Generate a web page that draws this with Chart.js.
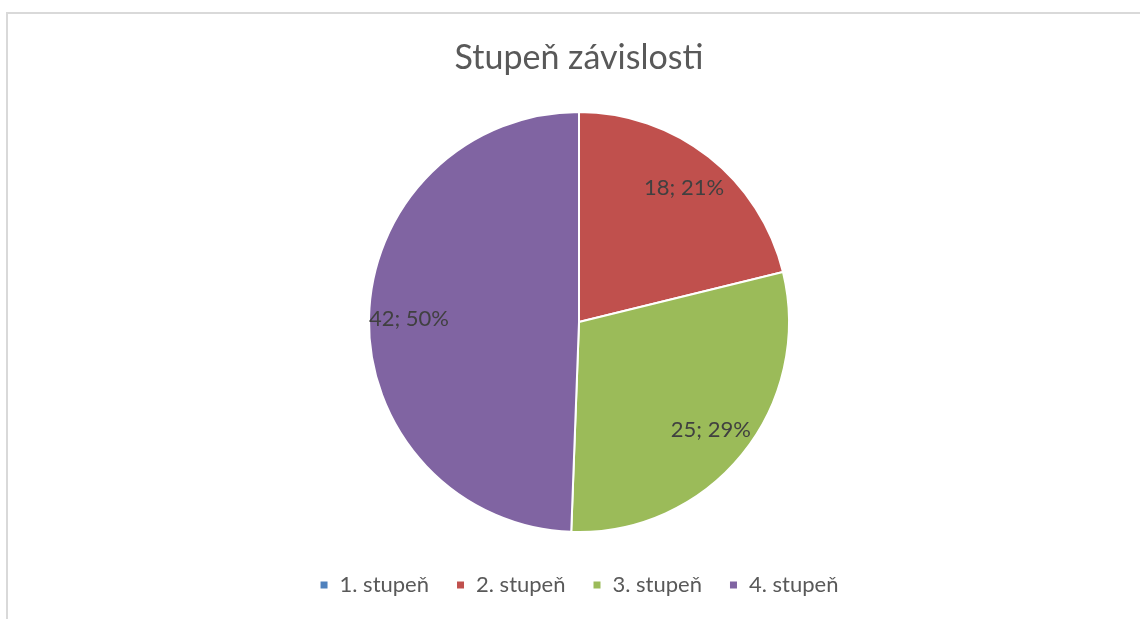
<!DOCTYPE html>
<html>
<head>
<meta charset="utf-8">
<script src="https://cdn.jsdelivr.net/npm/chart.js@4"></script>
<style>
    html, body { margin: 0; padding: 0; background: #fff; }
    body { width: 1140px; height: 619px; overflow: hidden; position: relative; }
    .frame {
        position: absolute; left: 6px; top: 12px; width: 1200px; height: 700px;
        border: 2px solid #d9d9d9; box-sizing: border-box;
    }
    #chart { position: absolute; left: 9px; top: 0; }
</style>
</head>
<body>
<div class="frame"></div>
<canvas id="chart" width="1140" height="619"></canvas>
<script>
const categories = ['1. stupeň', '2. stupeň', '3. stupeň', '4. stupeň'];
const counts = [0, 18, 25, 42];
const percentLabels = ['0%', '21%', '29%', '50%'];
const sliceColors = ['#4f81bd', '#c0504d', '#9bbb59', '#8064a2'];

const FONT = 'Lato, "Open Sans", sans-serif';

// data labels "value; percent" drawn inside each slice
const sliceLabels = {
    id: 'sliceLabels',
    afterDatasetsDraw(chart) {
        const ctx = chart.ctx;
        const meta = chart.getDatasetMeta(0);
        ctx.save();
        ctx.font = '22px ' + FONT;
        ctx.fillStyle = '#404040';
        ctx.textAlign = 'center';
        ctx.textBaseline = 'middle';
        meta.data.forEach((arc, i) => {
            if (!counts[i]) return;
            const mid = (arc.startAngle + arc.endAngle) / 2;
            const d = arc.outerRadius * 0.81;
            ctx.fillText(counts[i] + '; ' + percentLabels[i],
                arc.x + Math.cos(mid) * d, arc.y + Math.sin(mid) * d);
        });
        ctx.restore();
    }
};

new Chart(document.getElementById('chart'), {
    type: 'pie',
    data: {
        labels: categories,
        datasets: [{
            data: counts,
            backgroundColor: sliceColors,
            borderColor: '#ffffff',
            borderWidth: 2,
            radius: 210
        }]
    },
    options: {
        responsive: false,
        animation: false,
        layout: { padding: { bottom: 13 } },
        plugins: {
            title: {
                display: true,
                text: 'Stupeň závislosti',
                color: '#595959',
                font: { family: FONT, size: 34, weight: 'normal' },
                padding: { top: 37.6, bottom: 18.6 }
            },
            legend: {
                position: 'bottom',
                labels: {
                    color: '#595959',
                    font: { family: FONT, size: 22 },
                    boxWidth: 9,
                    boxHeight: 9,
                    padding: 27
                }
            },
            tooltip: { enabled: false }
        }
    },
    plugins: [sliceLabels]
});
</script>
</body>
</html>
